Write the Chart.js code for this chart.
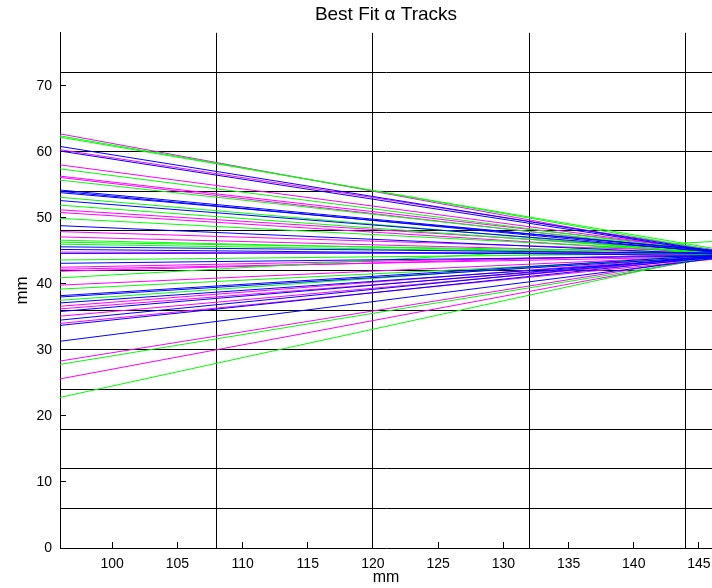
<!DOCTYPE html>
<html>
<head>
<meta charset="utf-8">
<script src="https://cdn.jsdelivr.net/npm/chart.js@4.4.1/dist/chart.umd.min.js"></script>
<style>
  html, body { margin: 0; padding: 0; background: #fff; }
  #wrap { width: 712px; height: 588px; position: relative; }
</style>
</head>
<body>
<div id="wrap"><canvas id="tracks"></canvas></div>
<script>
// Best Fit alpha tracks: each track is a straight line from x = 96 mm to x = 146 mm
const xRange = [96, 146];
const yRange = [0, 78];

// tick labels and detector grid positions
const xTickValues = [100, 105, 110, 115, 120, 125, 130, 135, 140, 145];
const xGridValues = [108, 120, 132, 144];
const yTickValues = [0, 10, 20, 30, 40, 50, 60, 70];
const yGridValues = [6, 12, 18, 24, 30, 36, 42, 48, 54, 60, 66, 72];

// y (mm) of each track at the left end and at the right end
const greenStart = [62.4, 62.2, 57.4, 55.7, 53.1, 51.9, 49.9, 46.6, 46.3, 46.0, 43.6, 40.9, 39.2, 37.5, 27.8, 22.8];
const greenEnd   = [45.1, 45.4, 44.8, 44.9, 44.6, 44.7, 44.8, 44.4, 44.8, 44.5, 44.6, 46.4, 44.0, 44.4, 43.9, 44.3];

const blueStart = [60.8, 60.1, 54.2, 54.0, 53.8, 52.6, 48.8, 45.6, 45.2, 44.6, 43.1, 38.2, 38.0, 37.1, 35.8, 34.5, 33.7, 31.3];
const blueEnd   = [45.0, 44.9, 45.0, 44.8, 45.1, 44.9, 44.5, 44.6, 44.3, 44.7, 44.2, 44.3, 44.1, 43.9, 44.1, 44.2, 44.0, 43.8];

const magentaStart = [62.7, 60.3, 58.0, 56.3, 56.1, 51.2, 50.8, 47.9, 47.1, 44.8, 42.5, 42.2, 41.9, 39.8, 36.6, 36.2, 35.1, 34.0, 28.3, 25.6];
const magentaEnd   = [44.6, 45.2, 45.0, 45.1, 44.7, 45.0, 44.6, 44.9, 44.6, 44.5, 44.4, 44.1, 44.5, 44.2, 44.2, 43.8, 43.9, 43.7, 44.1, 44.0];

const FONT = "'Liberation Sans', Arial, Helvetica, sans-serif";

function trackSets(starts, ends, color) {
  return starts.map((y0, i) => ({
    data: [{ x: xRange[0], y: y0 }, { x: xRange[1], y: ends[i] }],
    borderColor: color,
    borderWidth: 1,
    pointRadius: 0,
    tension: 0,
  }));
}

const datasets = [
  ...trackSets(blueStart, blueEnd, '#0000ff'),
  ...trackSets(greenStart, greenEnd, '#00ff00'),
  ...trackSets(magentaStart, magentaEnd, '#ff00ff'),
];

function mergedTicks(a, b) {
  return [...new Set([...a, ...b])].sort((p, q) => p - q).map(v => ({ value: v }));
}

new Chart(document.getElementById('tracks').getContext('2d'), {
  type: 'line',
  data: { datasets },
  options: {
    responsive: true,
    maintainAspectRatio: false,
    animation: false,
    layout: { padding: 0 },
    plugins: {
      legend: { display: false },
      tooltip: { enabled: false },
      title: {
        display: true,
        text: 'Best Fit \u03b1 Tracks',
        fullSize: false,
        color: '#000',
        font: { family: FONT, size: 19, weight: 'normal', lineHeight: 1.2 },
        padding: { top: 3, bottom: 7 },
      },
    },
    scales: {
      x: {
        type: 'linear',
        min: xRange[0],
        max: xRange[1],
        z: 1,
        afterBuildTicks: s => { s.ticks = mergedTicks(xTickValues, xGridValues); },
        afterFit: s => { s.height = 40; s.paddingLeft = 0; s.paddingRight = 0; },
        ticks: {
          autoSkip: false,
          maxRotation: 0,
          padding: 14,
          color: '#000',
          font: { family: FONT, size: 14 },
          callback: v => xTickValues.includes(v) ? String(v) : '',
        },
        grid: {
          color: c => xGridValues.includes(c.tick.value) ? '#000' : 'rgba(0,0,0,0)',
          tickColor: c => xTickValues.includes(c.tick.value) ? '#000' : 'rgba(0,0,0,0)',
          tickLength: -6,
          lineWidth: 1,
        },
        border: { display: true, color: '#000', width: 1 },
        title: {
          display: true,
          text: 'mm',
          color: '#000',
          font: { family: FONT, size: 16, lineHeight: 1.2 },
          padding: { top: 0, bottom: 1 },
        },
      },
      y: {
        type: 'linear',
        min: yRange[0],
        max: yRange[1],
        z: 1,
        afterBuildTicks: s => { s.ticks = mergedTicks(yTickValues, yGridValues); },
        afterFit: s => { s.width = 60; s.paddingTop = 0; s.paddingBottom = 0; },
        ticks: {
          autoSkip: false,
          padding: 14,
          color: '#000',
          font: { family: FONT, size: 14 },
          callback: v => yTickValues.includes(v) ? String(v) : '',
        },
        grid: {
          color: c => yGridValues.includes(c.tick.value) ? '#000' : 'rgba(0,0,0,0)',
          tickColor: c => yTickValues.includes(c.tick.value) ? '#000' : 'rgba(0,0,0,0)',
          tickLength: -6,
          lineWidth: 1,
        },
        border: { display: true, color: '#000', width: 1 },
        title: {
          display: true,
          text: 'mm',
          color: '#000',
          font: { family: FONT, size: 17, lineHeight: 1.2 },
          padding: { top: 12, bottom: 0 },
        },
      },
    },
  },
});
</script>
</body>
</html>
